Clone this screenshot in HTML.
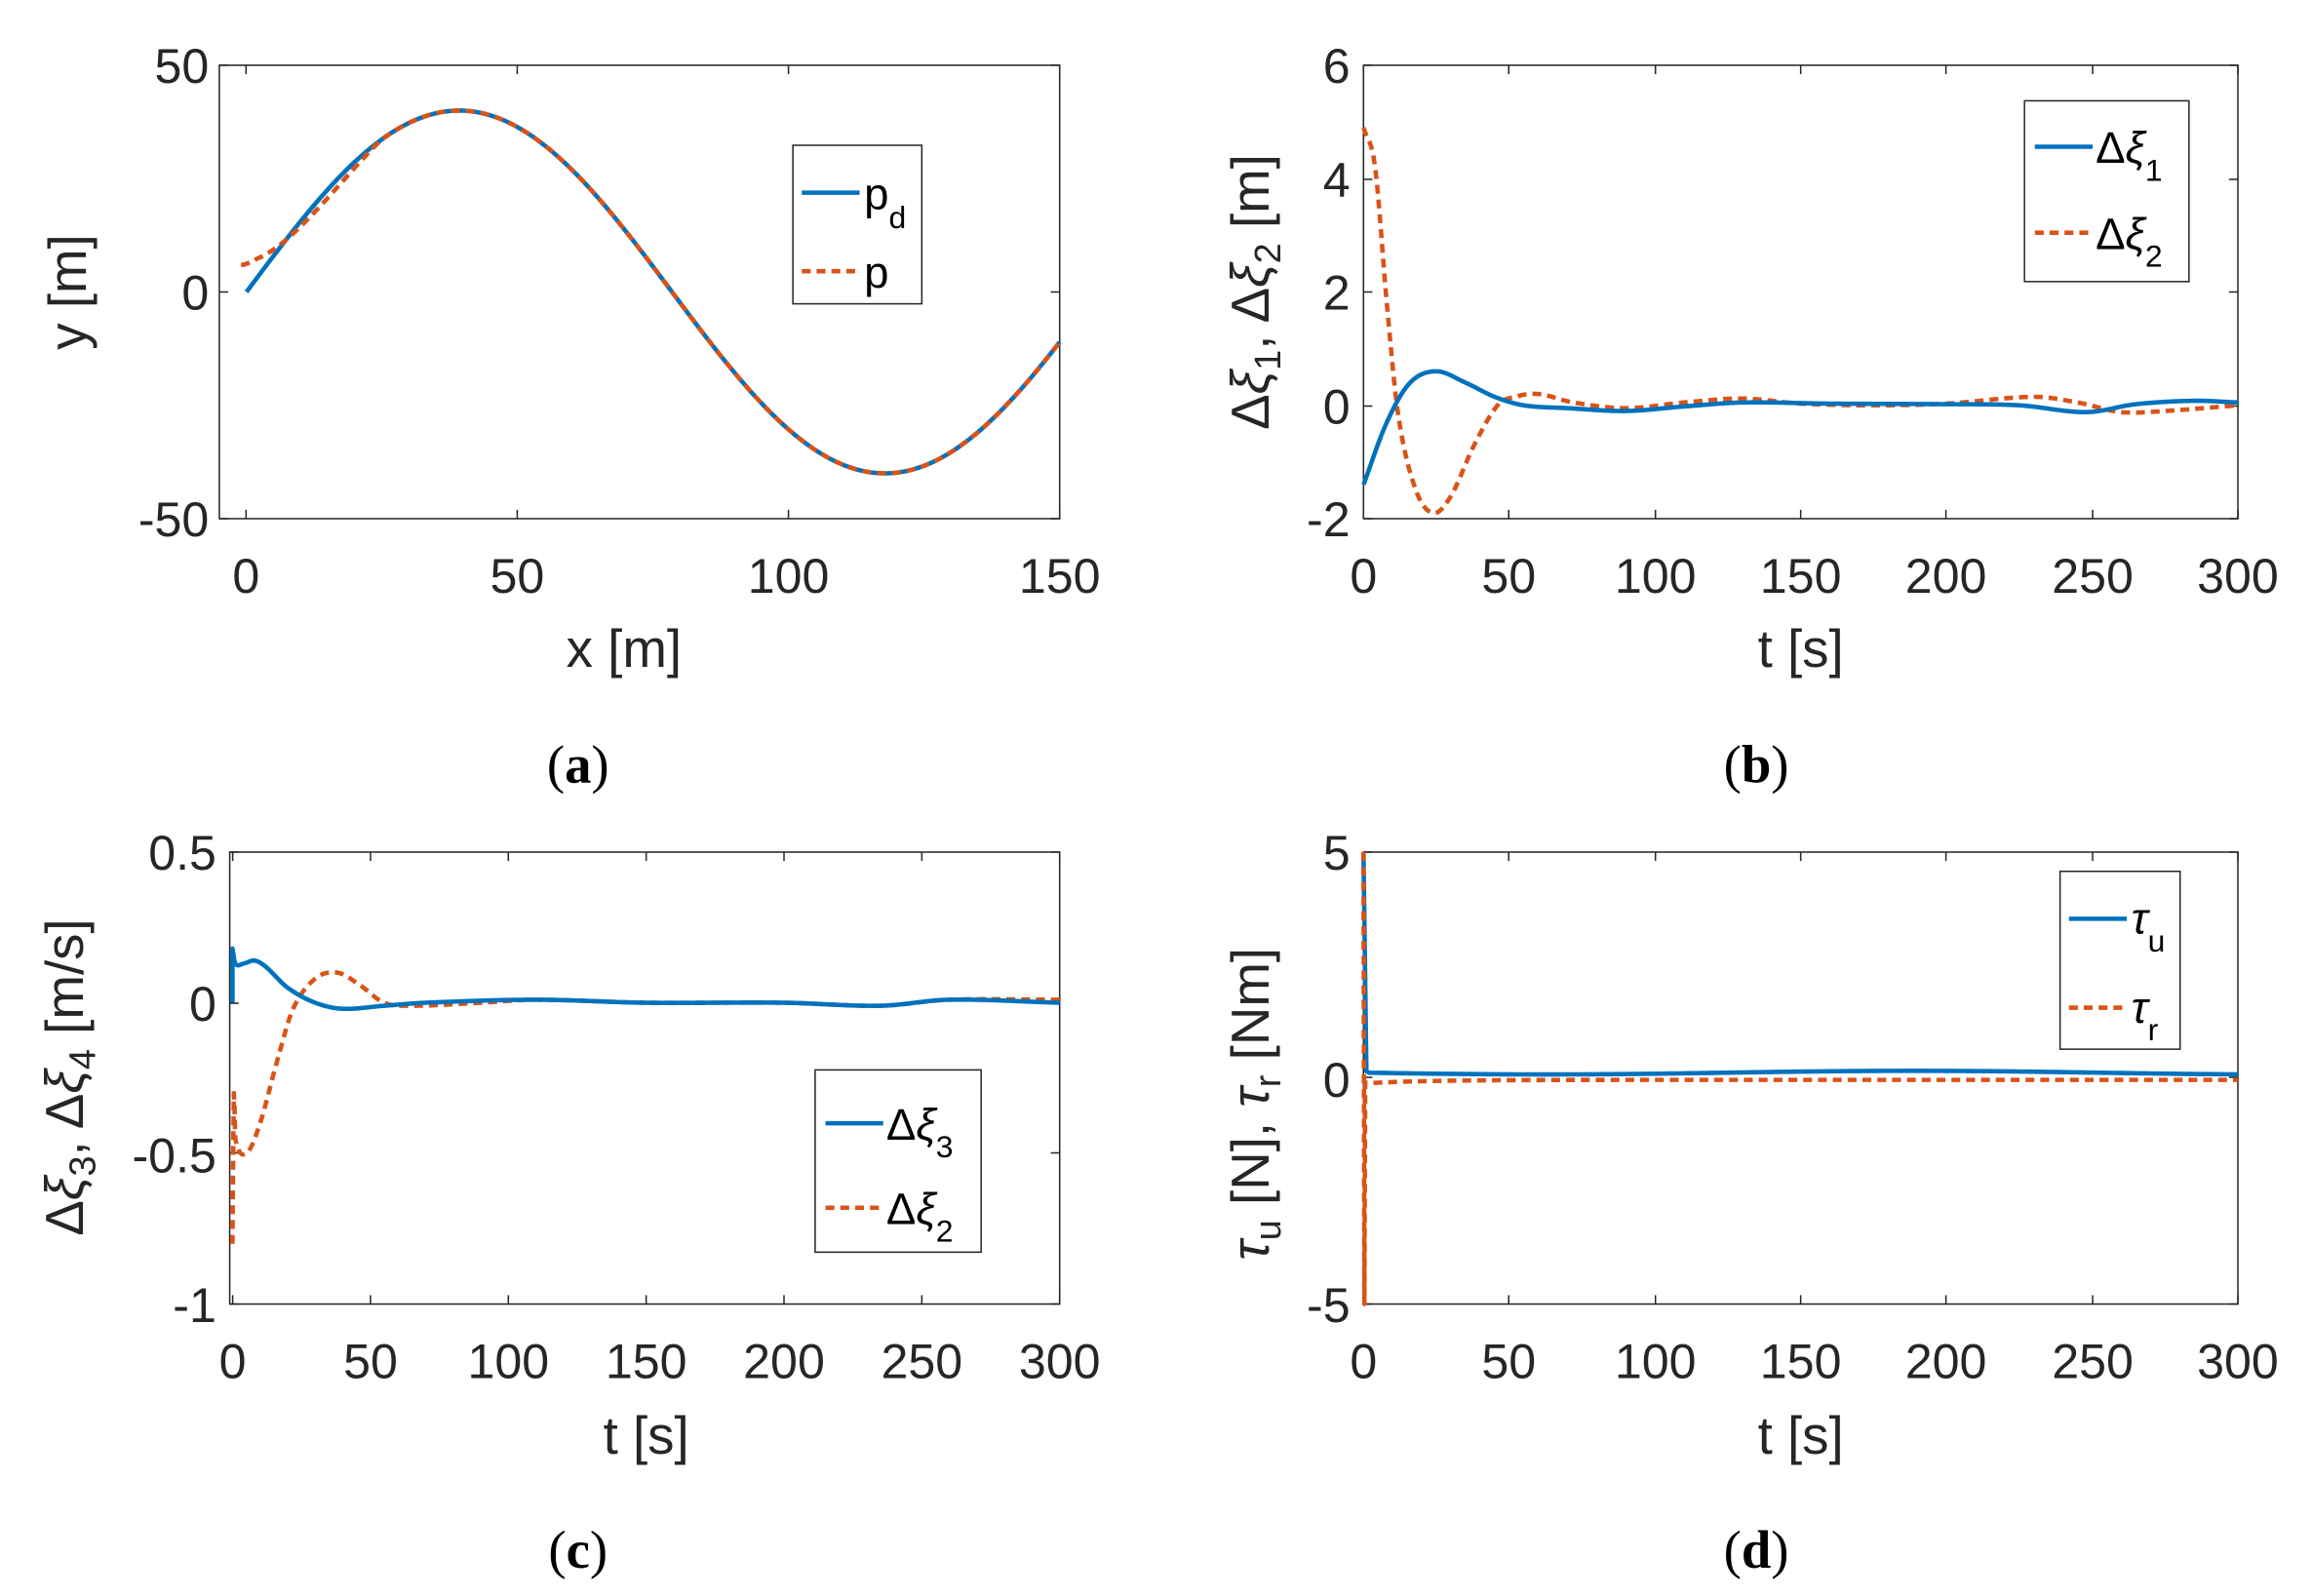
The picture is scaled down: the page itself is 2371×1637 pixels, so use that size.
<!DOCTYPE html>
<html><head><meta charset="utf-8"><style>
html,body{margin:0;padding:0;background:#fff}
svg{display:block}
text{font-family:"Liberation Sans",sans-serif;fill:#262626}
.t text{font-size:33px}
.l text{font-size:36px}
.s text{font-family:"Liberation Serif",serif;font-size:36px;fill:#000}
</style></head><body>
<svg id="s" width="2371" height="1637" viewBox="0 0 1560 1077" xmlns="http://www.w3.org/2000/svg">
<rect width="1560" height="1077" fill="#fff"/>
<g id="g"></g>
<g class="t" text-anchor="middle">
<text x="166" y="400">0</text><text x="349" y="400">50</text><text x="532" y="400">100</text><text x="715" y="400">150</text>
<text x="920" y="400">0</text><text x="1018" y="400">50</text><text x="1117" y="400">100</text><text x="1215" y="400">150</text><text x="1313" y="400">200</text><text x="1412" y="400">250</text><text x="1510" y="400">300</text>
<text x="157" y="930">0</text><text x="250" y="930">50</text><text x="343" y="930">100</text><text x="436" y="930">150</text><text x="529" y="930">200</text><text x="622" y="930">250</text><text x="715" y="930">300</text>
<text x="920" y="930">0</text><text x="1018" y="930">50</text><text x="1117" y="930">100</text><text x="1215" y="930">150</text><text x="1313" y="930">200</text><text x="1412" y="930">250</text><text x="1510" y="930">300</text>
</g>
<g class="t" text-anchor="end">
<text x="141" y="56">50</text><text x="141" y="209">0</text><text x="141" y="362">-50</text>
<text x="911" y="56">6</text><text x="911" y="133">4</text><text x="911" y="209">2</text><text x="911" y="286">0</text><text x="911" y="362">-2</text>
<text x="146" y="587">0.5</text><text x="146" y="689">0</text><text x="146" y="791">-0.5</text><text x="146" y="892">-1</text>
<text x="911" y="587">5</text><text x="911" y="740">0</text><text x="911" y="892">-5</text>
</g>
<g class="l" text-anchor="middle">
<text x="421" y="450">x [m]</text><text x="1215" y="450">t [s]</text>
<text x="436" y="981">t [s]</text><text x="1215" y="981">t [s]</text>
<text transform="translate(58,197) rotate(-90)">y [m]</text>
<text transform="translate(856,197) rotate(-90)">Δ<tspan font-style="italic">ξ</tspan><tspan font-size="25" dy="8">1</tspan><tspan dy="-8">, Δ</tspan><tspan font-style="italic">ξ</tspan><tspan font-size="25" dy="8">2</tspan><tspan dy="-8"> [m]</tspan></text>
<text transform="translate(56,727) rotate(-90)">Δ<tspan font-style="italic">ξ</tspan><tspan font-size="25" dy="8">3</tspan><tspan dy="-8">, Δ</tspan><tspan font-style="italic">ξ</tspan><tspan font-size="25" dy="8">4</tspan><tspan dy="-8"> [m/s]</tspan></text>
<text transform="translate(856,745) rotate(-90)"><tspan font-style="italic">τ</tspan><tspan font-size="25" dy="8">u</tspan><tspan dy="-8"> [N], </tspan><tspan font-style="italic">τ</tspan><tspan font-size="25" dy="8">r</tspan><tspan dy="-8"> [Nm]</tspan></text>
</g>
<g class="s" text-anchor="middle">
<text x="390" y="528">(<tspan font-weight="bold">a</tspan>)</text>
<text x="1185" y="528">(<tspan font-weight="bold">b</tspan>)</text>
<text x="390" y="1058">(<tspan font-weight="bold">c</tspan>)</text>
<text x="1185" y="1058">(<tspan font-weight="bold">d</tspan>)</text>
</g>
<g stroke="#262626" stroke-width="1" fill="#fff">
<rect x="535" y="98" width="87" height="107"/>
<rect x="1366" y="68" width="111" height="122"/>
<rect x="550" y="722" width="112" height="123"/>
<rect x="1390" y="588" width="81" height="120"/>
</g>
<g stroke-width="3" fill="none">
<line x1="541" y1="130" x2="580" y2="130" stroke="#0072BD"/>
<line x1="541" y1="183" x2="580" y2="183" stroke="#D95319" stroke-dasharray="6 4"/>
<line x1="1373" y1="99" x2="1412" y2="99" stroke="#0072BD"/>
<line x1="1373" y1="157" x2="1412" y2="157" stroke="#D95319" stroke-dasharray="6 4"/>
<line x1="557" y1="758" x2="596" y2="758" stroke="#0072BD"/>
<line x1="557" y1="815" x2="596" y2="815" stroke="#D95319" stroke-dasharray="6 4"/>
<line x1="1396" y1="620" x2="1435" y2="620" stroke="#0072BD"/>
<line x1="1396" y1="680" x2="1435" y2="680" stroke="#D95319" stroke-dasharray="6 4"/>
</g>
<g font-size="30">
<text x="583" y="141" style="fill:#000;font-size:30px">p<tspan font-size="21" dy="13">d</tspan></text>
<text x="583" y="194" style="fill:#000;font-size:30px">p</text>
<text x="1414" y="110" style="fill:#000;font-size:30px">Δ<tspan font-style="italic">ξ</tspan><tspan font-size="21" dy="12">1</tspan></text>
<text x="1414" y="168" style="fill:#000;font-size:30px">Δ<tspan font-style="italic">ξ</tspan><tspan font-size="21" dy="12">2</tspan></text>
<text x="598" y="769" style="fill:#000;font-size:30px">Δ<tspan font-style="italic">ξ</tspan><tspan font-size="21" dy="12">3</tspan></text>
<text x="598" y="826" style="fill:#000;font-size:30px">Δ<tspan font-style="italic">ξ</tspan><tspan font-size="21" dy="12">2</tspan></text>
<text x="1438" y="630" style="fill:#000;font-size:30px"><tspan font-style="italic">τ</tspan><tspan font-size="21" dy="12">u</tspan></text>
<text x="1438" y="690" style="fill:#000;font-size:30px"><tspan font-style="italic">τ</tspan><tspan font-size="21" dy="12">r</tspan></text>
</g>
</svg>
<script>
var NS="http://www.w3.org/2000/svg",G=document.getElementById('g');
function el(n,a){var e=document.createElementNS(NS,n);for(var k in a)e.setAttribute(k,a[k]);G.appendChild(e);return e;}
function axes(l,t,r,b,xt,yt){
 el('rect',{x:l,y:t,width:r-l,height:b-t,fill:'none',stroke:'#262626','stroke-width':1});
 xt.forEach(function(x){el('line',{x1:x,y1:b,x2:x,y2:b-6,stroke:'#262626'});el('line',{x1:x,y1:t,x2:x,y2:t+6,stroke:'#262626'});});
 yt.forEach(function(y){el('line',{x1:l,y1:y,x2:l+6,y2:y,stroke:'#262626'});el('line',{x1:r,y1:y,x2:r-6,y2:y,stroke:'#262626'});});
}
function interp(k,t){
 if(t<=k[0][0])return k[0][1];
 for(var i=0;i<k.length-1;i++){if(t<=k[i+1][0]){
  var p0=k[Math.max(i-1,0)],p1=k[i],p2=k[i+1],p3=k[Math.min(i+2,k.length-1)];
  var u=(t-p1[0])/(p2[0]-p1[0]);
  var m1=(p2[1]-p0[1])/(p2[0]-p0[0]||1)*(p2[0]-p1[0]),m2=(p3[1]-p1[1])/(p3[0]-p1[0]||1)*(p2[0]-p1[0]);
  var u2=u*u,u3=u2*u;
  return (2*u3-3*u2+1)*p1[1]+(u3-2*u2+u)*m1+(-2*u3+3*u2)*p2[1]+(u3-u2)*m2;}}
 return k[k.length-1][1];}
function path(pts,col,dash){var d='M'+pts.map(function(p){return p[0].toFixed(2)+','+p[1].toFixed(2)}).join('L');
 var a={d:d,fill:'none',stroke:col,'stroke-width':3,'stroke-linejoin':'round'};if(dash)a['stroke-dasharray']='6 4';el('path',a);}
var B='#0072BD',O='#D95319';
axes(148,44,715,350,[166,349,532,715],[44,197,350]);
(function(){var X=function(x){return 148+(x+5)*567/155},Y=function(y){return 197-y*3.06};
 var p=[],q=[];for(var x=0;x<=150;x+=0.5){p.push([X(x),Y(40*Math.sin(2*Math.PI*x/157))]);}
 for(var x=-1;x<=150;x+=0.5){var v=40*Math.sin(2*Math.PI*x/157);
  var e=(7.6)*Math.exp(-(x+1)/5)-(x>2&&x<25?2.2*Math.sin(Math.PI*(x-2)/23):0);
  q.push([X(x),Y(v+(x<0?6-v:e))]);}
 path(p,B);path(q,O,1);})();
axes(920,44,1510,350,[920,1018,1117,1215,1313,1412,1510],[44,121,197,274,350]);
(function(){var X=function(t){return 920+t*590/300},Y=function(v){return 350-(v+2)*306/8};
 var kb=[[0,-1.4],[8,-0.3],[16,0.4],[25,0.6],[35,0.4],[45,0.15],[55,0.0],[70,-0.05],[90,-0.1],[110,-0.02],[130,0.05],[160,0.03],[200,0.02],[225,0.0],[248,-0.12],[265,0.02],[285,0.08],[300,0.05]];
 var ko=[[0,4.9],[4,4.2],[8,1.8],[12,-0.2],[18,-1.5],[24,-1.9],[30,-1.6],[38,-0.7],[46,0.0],[52,0.15],[60,0.2],[72,0.05],[90,-0.05],[110,0.05],[130,0.12],[150,0.03],[175,0.0],[200,0.03],[230,0.15],[245,0.05],[260,-0.12],[275,-0.1],[300,0.0]];
 var p=[],q=[];for(var t=0;t<=300;t+=0.5){p.push([X(t),Y(interp(kb,t))]);q.push([X(t),Y(interp(ko,t))]);}
 path(q,O,1);path(p,B);})();
axes(155,575,715,880,[157,250,343,436,529,622,715],[575,677,778,880]);
(function(){var X=function(t){return 155+(t+1)*560/301},Y=function(v){return 880-(v+1)*305/1.5};
 var kb=[[0,0.18],[1,0.13],[4,0.13],[8,0.14],[12,0.12],[20,0.05],[30,0.0],[40,-0.02],[55,-0.01],[70,0.0],[110,0.01],[150,0.0],[200,0.0],[235,-0.01],[260,0.01],[300,0.0]];
 var ko=[[0,-0.8],[0.5,-0.3],[1,-0.45],[5,-0.5],[10,-0.4],[16,-0.2],[22,-0.02],[30,0.08],[38,0.1],[46,0.06],[55,0.0],[65,-0.01],[90,0.0],[110,0.01],[150,0.0],[200,0.0],[235,-0.01],[260,0.01],[300,0.01]];
 var p=[],q=[];for(var t=0;t<=300;t+=0.25){p.push([X(t),Y(interp(kb,t))]);q.push([X(t),Y(interp(ko,t))]);}
 p.unshift([X(0),Y(0.0)]);
 path(q,O,1);path(p,B);})();
axes(920,575,1510,880,[920,1018,1117,1215,1313,1412,1510],[575,727,880]);
(function(){var X=function(t){return 920+t*590/300},Y=function(v){return 727.5-v*30.5};
 var p=[[X(0),Y(5)],[X(1),Y(0.15)]],q=[[X(0),Y(5)],[X(0.3),Y(-5)],[X(0.6),Y(-0.1)]];
 for(var t=2;t<=300;t+=2){p.push([X(t),Y(0.12-0.04*Math.sin(t/40))]);q.push([X(t),Y(-0.12+0.08*(1-Math.exp(-t/20)))]);}
 path(p,B);path(q,O,1);})();
</script>
</body></html>
